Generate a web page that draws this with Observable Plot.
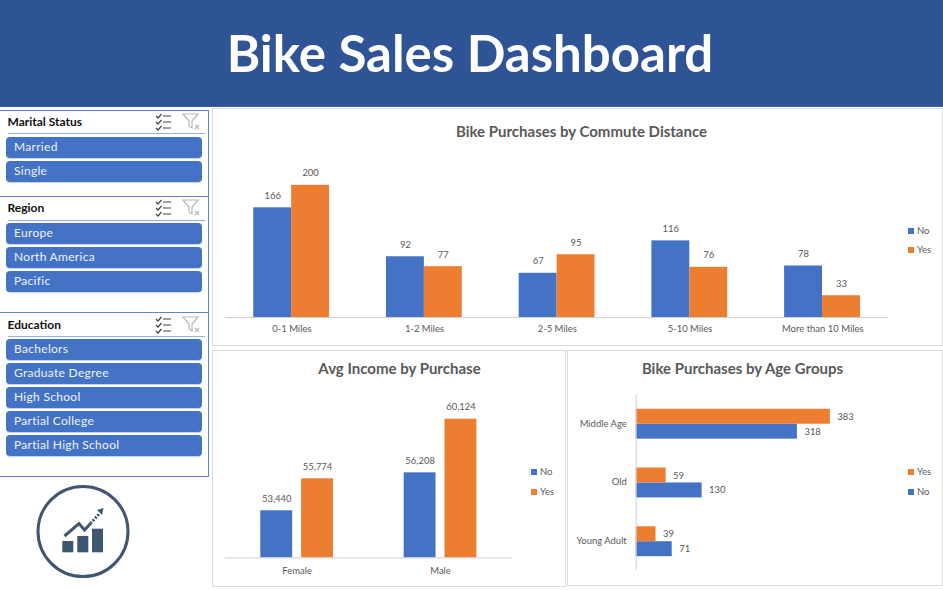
<!DOCTYPE html>
<html>
<head>
<meta charset="utf-8">
<script src="https://cdn.jsdelivr.net/npm/d3@7"></script>
<script src="https://cdn.jsdelivr.net/npm/@observablehq/plot@0.6"></script>
<style>
  html,body{margin:0;padding:0;background:#fff;overflow:hidden;}
  #page{position:relative;width:943px;height:590px;font-family:Lato,"Open Sans",sans-serif;overflow:hidden;}
  .abs{position:absolute;}
  #header{left:0;top:0;width:943px;height:106.5px;background:#2f5496;border-bottom:1px solid #3a62ab;box-sizing:border-box;}
  #header h1{position:absolute;left:0;width:940px;top:18px;margin:0;text-align:center;color:#fff;font:700 51px/70px Lato,sans-serif;}
  .card{border:1.5px solid #dcdcdc;box-sizing:border-box;background:#fff;}
  .card svg{position:absolute;left:-1.5px;top:-1.5px;overflow:visible;}
  .title{position:absolute;text-align:center;color:#595959;font:700 15px/20px Lato,sans-serif;white-space:nowrap;}
  .legend{position:absolute;font:400 9.5px/12px Lato,sans-serif;color:#595959;}
  .legend i{position:absolute;width:6px;height:6px;left:0;top:3px;}
  .legend span{position:absolute;left:9px;top:0;white-space:nowrap;}
  .slicer{position:absolute;left:-2px;width:211px;box-sizing:border-box;border:1.5px solid #5f86cc;background:#fff;}
  .s-head{position:absolute;left:8.5px;color:#111;font:700 12px/14px Lato,sans-serif;white-space:nowrap;}
  .s-line{position:absolute;left:8.5px;width:197px;height:1px;background:#8fb0e6;}
  .s-btn{position:absolute;left:7px;width:196px;height:21px;box-sizing:border-box;border-radius:4px;background:#4472c4;color:#eef2fa;font:400 12px/20px Lato,sans-serif;padding-left:8px;letter-spacing:.3px;box-shadow:0 1px 0 #c5d4ee;white-space:nowrap;}
  .s-icons{position:absolute;left:155px;width:48px;height:20px;}
</style>
</head>
<body>
<div id="page">
  <div id="header" class="abs"><h1>Bike Sales Dashboard</h1></div>
</div>
<script>
// ---- Data ----
const purchaseSeries = ["No", "Yes"];
const seriesColors = ["#4472c4", "#ed7d31"];

const commuteDistances = ["0-1 Miles", "1-2 Miles", "2-5 Miles", "5-10 Miles", "More than 10 Miles"];
const commuteNo = [166, 92, 67, 116, 78];
const commuteYes = [200, 77, 95, 76, 33];

const genders = ["Female", "Male"];
const incomeNo = [53440, 56208];
const incomeYes = [55774, 60124];
const incomeAxisFloor = 50000;
const incomeAxisTop = 60124;

const ageGroups = ["Middle Age", "Old", "Young Adult"];
const ageSeries = ["Yes", "No"];
const ageYes = [383, 59, 39];
const ageNo = [318, 130, 71];

const maritalOptions = ["Married", "Single"];
const regionOptions = ["Europe", "North America", "Pacific"];
const educationOptions = ["Bachelors", "Graduate Degree", "High School", "Partial College", "Partial High School"];

const dashboardTitle = "Bike Sales Dashboard";

// ---- Tables ----
const table = (cats, no, yes) => cats.flatMap((c, i) => [
  {cat: c, series: "No", value: no[i]},
  {cat: c, series: "Yes", value: yes[i]}
]);
const commuteData = table(commuteDistances, commuteNo, commuteYes);
const incomeData = table(genders, incomeNo, incomeYes);
const ageData = table(ageGroups, ageNo, ageYes);

const page = document.getElementById("page");
const fontStyle = {fontFamily: "Lato, sans-serif", fontSize: "9.5px", color: "#595959", background: "transparent", overflow: "visible"};
const colorScale = {domain: purchaseSeries, range: seriesColors};
const axisColor = "#d0d0d0";
const labelColor = "#595959";

function card(left, top, width, height) {
  const d = document.createElement("div");
  d.className = "abs card";
  Object.assign(d.style, {left: left + "px", top: top + "px", width: width + "px", height: height + "px"});
  page.appendChild(d);
  return d;
}
function title(text, cx, cy, size) {
  const d = document.createElement("div");
  d.className = "title";
  d.textContent = text;
  Object.assign(d.style, {left: (cx - 300) + "px", width: "600px", top: (cy - 10) + "px", fontSize: size + "px"});
  page.appendChild(d);
}
function legend(x, y, items) {
  items.forEach(([label, color], i) => {
    const d = document.createElement("div");
    d.className = "legend";
    Object.assign(d.style, {left: x + "px", top: (y - 6 + i * 19.5) + "px"});
    const sw = document.createElement("i"); sw.style.background = color;
    const tx = document.createElement("span"); tx.textContent = label;
    d.append(sw, tx);
    page.appendChild(d);
  });
}

// ---- Chart 1: commute distance ----
const c1 = card(212, 108, 730.5, 237.5);
c1.appendChild(Plot.plot({
  width: 730, height: 237,
  marginLeft: 12.7, marginRight: 52, marginTop: 77, marginBottom: 27.5,
  style: fontStyle,
  x: {axis: null, domain: purchaseSeries, paddingInner: 0, paddingOuter: 0.73},
  y: {axis: null, domain: [0, 200]},
  fx: {domain: commuteDistances, padding: 0, axis: "bottom", tickSize: 0, tickPadding: 8, label: null},
  color: colorScale,
  marks: [
    Plot.barY(commuteData, {fx: "cat", x: "series", y: "value", fill: "series", inset: 0}),
    Plot.ruleY([0], {stroke: axisColor, strokeWidth: 1}),
    Plot.text(commuteData, {fx: "cat", x: "series", y: "value", text: "value", dy: -12, fill: labelColor})
  ]
}));
title("Bike Purchases by Commute Distance", 581.5, 131, 15);
legend(908, 230.7, [["No", seriesColors[0]], ["Yes", seriesColors[1]]]);

// ---- Chart 2: income ----
const c2 = card(212, 350, 353.5, 236.5);
c2.appendChild(Plot.plot({
  width: 353, height: 236,
  marginLeft: 12.5, marginRight: 52.5, marginTop: 69, marginBottom: 27.7,
  style: fontStyle,
  x: {axis: null, domain: purchaseSeries, paddingInner: 0.21, paddingOuter: 0.86},
  y: {axis: null, domain: [incomeAxisFloor, incomeAxisTop]},
  fx: {domain: genders, padding: 0, axis: "bottom", tickSize: 0, tickPadding: 9, label: null},
  color: colorScale,
  marks: [
    Plot.barY(incomeData, {fx: "cat", x: "series", y1: incomeAxisFloor, y2: "value", fill: "series", inset: 0}),
    Plot.ruleY([incomeAxisFloor], {stroke: axisColor, strokeWidth: 1}),
    Plot.text(incomeData, {fx: "cat", x: "series", y: "value", text: d => d3.format(",")(d.value), dy: -12, fill: labelColor})
  ]
}));
title("Avg Income by Purchase", 399.5, 368, 15);
legend(531, 472, [["No", seriesColors[0]], ["Yes", seriesColors[1]]]);

// ---- Chart 3: age groups ----
const c3 = card(567, 350, 375.5, 235.5);
c3.appendChild(Plot.plot({
  width: 375, height: 235,
  marginLeft: 69, marginRight: 102.4, marginTop: 43, marginBottom: 13,
  style: fontStyle,
  x: {axis: null, domain: [0, 400]},
  y: {axis: null, domain: ageSeries, paddingInner: 0, paddingOuter: 0.925},
  fy: {domain: ageGroups, padding: 0, axis: "left", tickSize: 0, tickPadding: 9.5, label: null},
  color: colorScale,
  marks: [
    Plot.barX(ageData, {fy: "cat", y: "series", x: "value", fill: "series", inset: 0}),
    Plot.ruleX([0], {stroke: axisColor, strokeWidth: 1}),
    Plot.text(ageData, {fy: "cat", y: "series", x: "value", text: "value", dx: 7, textAnchor: "start", fill: labelColor})
  ]
}));
title("Bike Purchases by Age Groups", 742.5, 368, 15);
legend(908, 472, [["Yes", seriesColors[1]], ["No", seriesColors[0]]]);

// ---- Slicers ----
const iconsSvg = `<svg width="48" height="20" viewBox="0 0 48 20" xmlns="http://www.w3.org/2000/svg">
  <g fill="none" stroke="#444" stroke-width="1.2">
    <path d="M2 4 l2 2 l3.5 -4 M2 10 l2 2 l3.5 -4 M2 16 l2 2 l3.5 -4"/>
    <path d="M9 4 h8 M9 10 h8 M9 16 h8"/>
  </g>
  <g fill="none" stroke="#b9b9b9" stroke-width="1.2">
    <path d="M29 2 h15 l-6 7 v7 l-3 -2 v-5 z"/>
    <path d="M41 13 l4 4 M45 13 l-4 4"/>
  </g>
</svg>`;
function slicer(name, options, top, height, headY, lineY, firstBtn) {
  const s = document.createElement("div");
  s.className = "slicer";
  Object.assign(s.style, {top: top + "px", height: height + "px"});
  const rel = v => (v - top - 1.5) + "px";
  const h = document.createElement("div");
  h.className = "s-head"; h.textContent = name; h.style.top = rel(headY - 7);
  const l = document.createElement("div");
  l.className = "s-line"; l.style.top = rel(lineY);
  const ic = document.createElement("div");
  ic.className = "s-icons"; ic.innerHTML = iconsSvg; ic.style.top = rel(headY - 10);
  s.append(h, l, ic);
  options.forEach((o, i) => {
    const b = document.createElement("div");
    b.className = "s-btn"; b.textContent = o; b.style.top = rel(firstBtn + i * 24);
    s.appendChild(b);
  });
  page.appendChild(s);
}
slicer("Marital Status", maritalOptions, 110, 87, 122, 133, 137);
slicer("Region", regionOptions, 196, 117, 208.5, 220, 223.5);
slicer("Education", educationOptions, 312, 165, 325, 336.5, 339);

// ---- Logo ----
const logo = document.createElement("div");
logo.className = "abs";
Object.assign(logo.style, {left: "33px", top: "481px"});
logo.innerHTML = `<svg width="100" height="101" viewBox="33 481 100 101" xmlns="http://www.w3.org/2000/svg">
  <circle cx="83" cy="531.5" r="45" fill="none" stroke="#3f5670" stroke-width="3"/>
  <g fill="#3f5670">
    <rect x="62.3" y="541" width="11" height="11.3"/>
    <rect x="77.3" y="536" width="11" height="16.3"/>
    <rect x="92" y="528.7" width="11" height="23.6"/>
    <path d="M97 510 L103.5 508 L102 515 Z"/>
  </g>
  <path d="M64.5 536 L79 523.5 L84.5 530 L90.5 523.5" fill="none" stroke="#3f5670" stroke-width="3"/>
  <path d="M90.5 523.5 L99 514" fill="none" stroke="#3f5670" stroke-width="3" stroke-dasharray="2 1.5"/>
</svg>`;
page.appendChild(logo);
</script>
</body>
</html>
